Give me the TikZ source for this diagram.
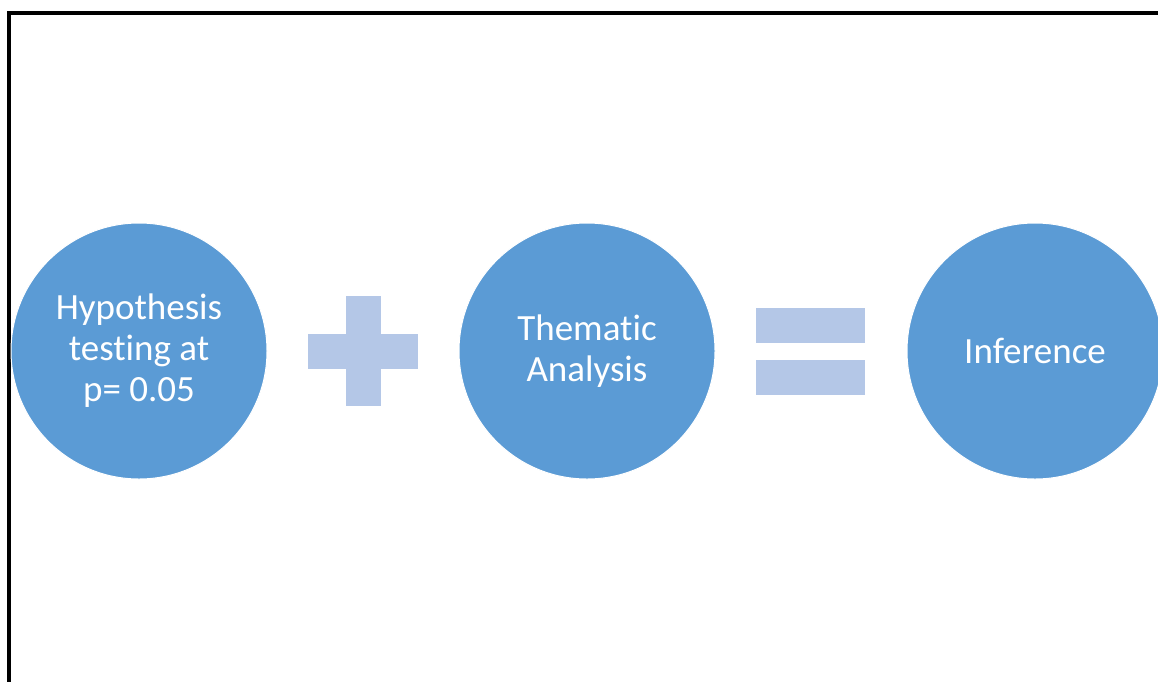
\documentclass[tikz,border=0pt]{standalone}
\usepackage{fontspec}
\setmainfont{Carlito}[Ligatures={NoCommon}]
\definecolor{bubble}{HTML}{5B9BD5}
\definecolor{signfill}{HTML}{B4C7E7}
\tikzset{
  stage/.style={circle, minimum size=256pt, inner sep=0pt, fill=bubble, draw=white,
    line width=1pt, text=white, align=center, font=\fontsize{37}{41}\selectfont},
  signbar/.style={rectangle, inner sep=0pt, fill=signfill, draw=none},
  frameline/.style={line width=4pt, black}
}
\begin{document}
\begin{tikzpicture}[x=1pt,y=-1pt]
\useasboundingbox (0,0) rectangle (1158,681);
\clip (0,0) rectangle (1158,681);
\fill[white] (0,0) rectangle (1158,681);

% frame edges
\coordinate (fb) at (9,683);
\coordinate (fc) at (9,13);
\coordinate (fr) at (1160,13);
\draw[frameline] (fb) -- (fc) -- (fr);

% stages
\node[stage] (hyp) at (139,351) {Hypothesis\\testing at\\p= 0.05};
\node[stage] (them) at (587,351) {Thematic\\Analysis};
\node[stage] (inf) at (1035,351) {Inference};

% plus sign
\node[signbar, minimum width=110pt, minimum height=35pt] (plush) at (363,351) {};
\node[signbar, minimum width=35pt, minimum height=110pt] (plusv) at (363,351) {};

% equals sign
\node[signbar, minimum width=109pt, minimum height=35pt] (eqtop) at (810.5,325) {};
\node[signbar, minimum width=109pt, minimum height=35pt] (eqbot) at (810.5,377) {};
\end{tikzpicture}
\end{document}
